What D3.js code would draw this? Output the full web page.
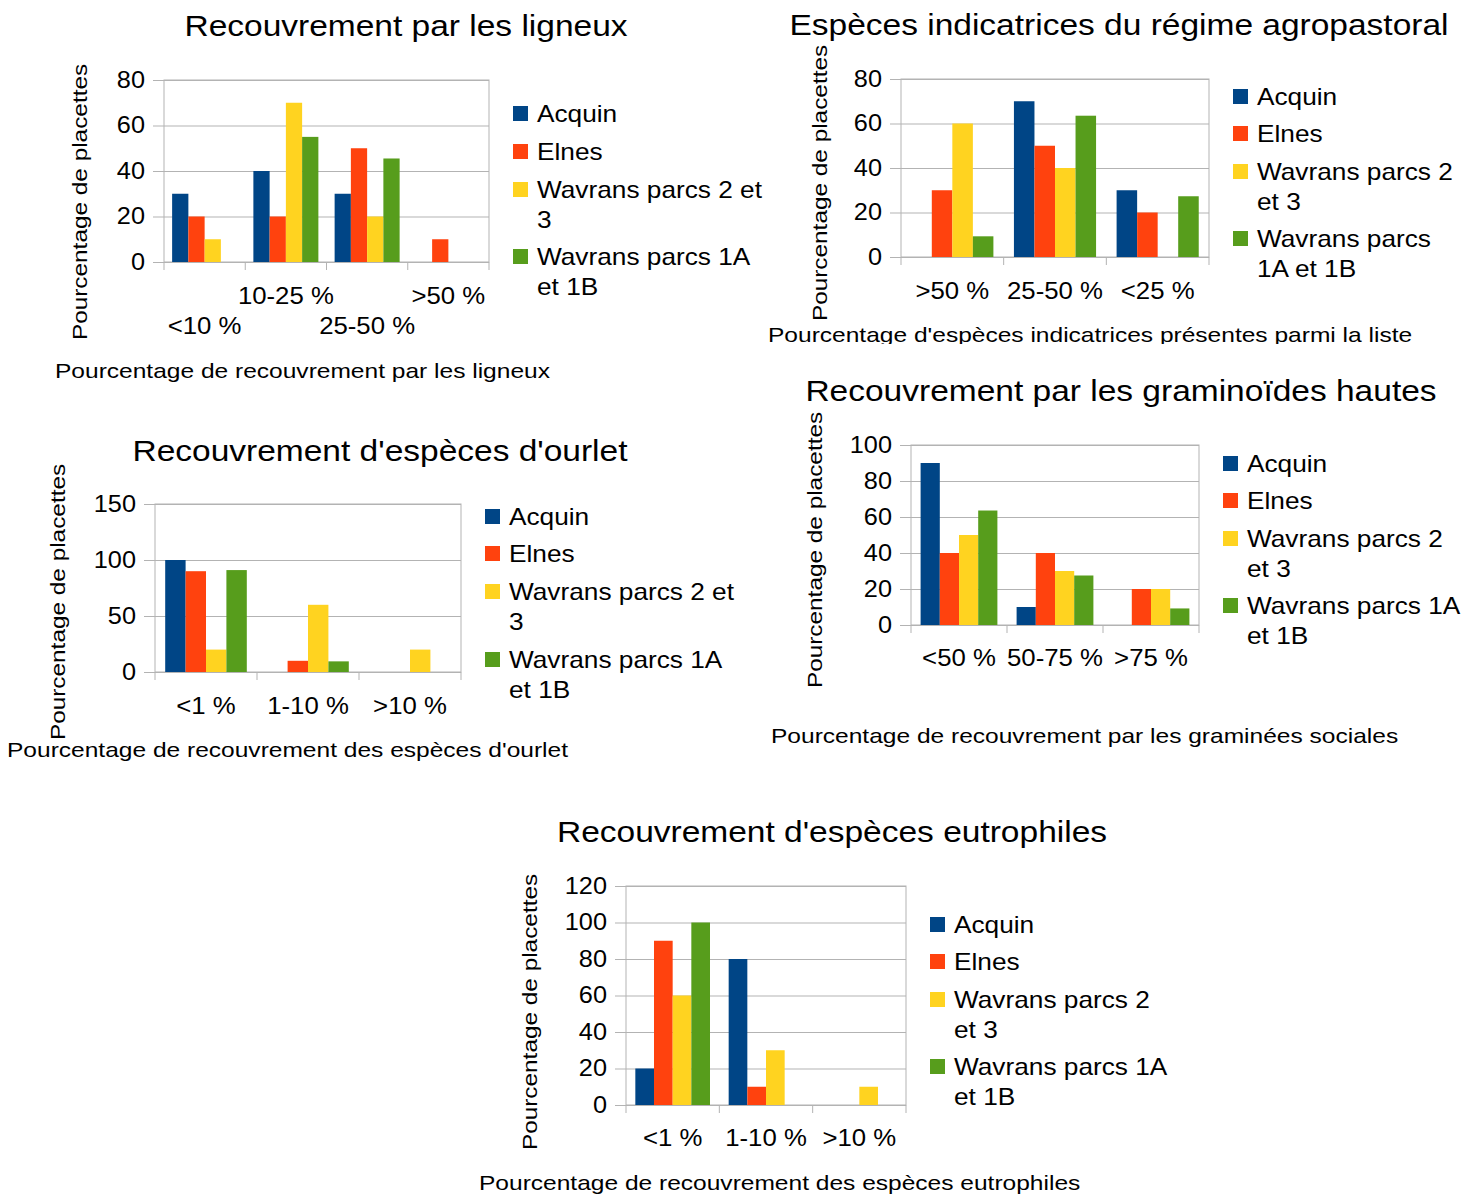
<!DOCTYPE html>
<html>
<head>
<meta charset="utf-8">
<script src="https://cdn.jsdelivr.net/npm/d3@7"></script>
<style>
  body { margin: 0; background: #fff; }
  svg { font-family: "Liberation Sans", Arial, sans-serif; }
  .grid line { stroke: #b3b3b3; }
</style>
</head>
<body>
<script>
// series shared by every chart
var seriesNames = ["Acquin", "Elnes", "Wavrans parcs 2 et 3", "Wavrans parcs 1A et 1B"];
var seriesColors = ["#004586", "#ff420e", "#ffd320", "#579d1c"];

// Recouvrement par les ligneux
var ligneuxCats = ["<10 %", "10-25 %", "25-50 %", ">50 %"];
var ligneuxAcquin = [30, 40, 30, 0];
var ligneuxElnes = [20, 20, 50, 10];
var ligneuxW23 = [10, 70, 20, 0];
var ligneuxW1A = [0, 55, 45.5, 0];
var ligneuxTicks = [0, 20, 40, 60, 80];

// Especes indicatrices du regime agropastoral
var agroCats = [">50 %", "25-50 %", "<25 %"];
var agroAcquin = [0, 70, 30];
var agroElnes = [30, 50, 20];
var agroW23 = [60, 40, 0];
var agroW1A = [9.3, 63.5, 27.3];
var agroTicks = [0, 20, 40, 60, 80];

// Recouvrement d'especes d'ourlet
var ourletCats = ["<1 %", "1-10 %", ">10 %"];
var ourletAcquin = [100, 0, 0];
var ourletElnes = [90, 10, 0];
var ourletW23 = [20, 60, 20];
var ourletW1A = [91, 9.5, 0];
var ourletTicks = [0, 50, 100, 150];

// Recouvrement par les graminoides hautes
var gramCats = ["<50 %", "50-75 %", ">75 %"];
var gramAcquin = [90, 10, 0];
var gramElnes = [40, 40, 20];
var gramW23 = [50, 30, 20];
var gramW1A = [63.6, 27.5, 9.2];
var gramTicks = [0, 20, 40, 60, 80, 100];

// Recouvrement d'especes eutrophiles
var eutroCats = ["<1 %", "1-10 %", ">10 %"];
var eutroAcquin = [20, 80, 0];
var eutroElnes = [90, 10, 0];
var eutroW23 = [60, 30, 10];
var eutroW1A = [100, 0, 0];
var eutroTicks = [0, 20, 40, 60, 80, 100, 120];

var svg = d3.select("body").append("svg")
  .attr("width", 1478)
  .attr("height", 1195);

svg.append("defs").append("clipPath")
  .attr("id", "clipAgro")
  .append("rect")
  .attr("x", 700).attr("y", 300).attr("width", 760).attr("height", 44);

// the reference font runs wider than Liberation Sans at the same height
function stretch(sel, f) {
  sel.each(function() {
    var len = this.getComputedTextLength();
    d3.select(this)
      .attr("textLength", len * f)
      .attr("lengthAdjust", "spacingAndGlyphs");
  });
}

function drawChart(opt) {
  var g = svg.append("g");
  var series = opt.series;
  var w = opt.x1 - opt.x0;

  var x = d3.scaleBand().domain(opt.cats).range([opt.x0, opt.x1]).padding(0);
  var xs = d3.scaleBand().domain(d3.range(series.length))
    .range([0, x.bandwidth()]).paddingInner(0).paddingOuter(0.5);
  var y = d3.scaleLinear().domain([0, d3.max(opt.ticks)]).range([opt.y1, opt.y0]);

  // title
  g.append("text")
    .attr("x", opt.titleX)
    .attr("y", opt.titleY)
    .attr("dy", "0.35em")
    .attr("text-anchor", "middle")
    .style("font-size", "29px")
    .text(opt.title)
    .call(stretch, 1.155);

  // plot frame
  g.append("rect")
    .attr("x", opt.x0).attr("y", opt.y0)
    .attr("width", w).attr("height", opt.y1 - opt.y0)
    .attr("fill", "none").attr("stroke", "#b3b3b3");

  // y axis + gridlines
  var yAxis = d3.axisLeft(y).tickValues(opt.ticks)
    .tickSizeInner(-w).tickSizeOuter(0).tickPadding(19);
  var ya = g.append("g")
    .attr("class", "grid")
    .attr("transform", "translate(" + opt.x0 + ",0)")
    .call(yAxis);
  ya.select(".domain").remove();
  ya.selectAll(".tick line").attr("x1", -11).attr("stroke", "#b3b3b3");
  ya.selectAll(".tick text")
    .attr("fill", "#000")
    .style("font-size", "23px")
    .style("font-family", "Liberation Sans, Arial, sans-serif")
    .call(stretch, 1.1);

  // bars
  var groups = g.selectAll(".grp")
    .data(opt.cats)
    .enter().append("g")
    .attr("transform", function(d) { return "translate(" + x(d) + ",0)"; });
  groups.selectAll("rect")
    .data(function(d, i) { return series.map(function(s, k) { return {k: k, v: s[i]}; }); })
    .enter().append("rect")
    .attr("x", function(d) { return xs(d.k); })
    .attr("width", xs.bandwidth())
    .attr("y", function(d) { return y(d.v); })
    .attr("height", function(d) { return y(0) - y(d.v); })
    .attr("fill", function(d) { return seriesColors[d.k]; });

  // x axis ticks at group boundaries
  var bounds = opt.cats.map(function(c) { return x(c); }).concat([opt.x1]);
  g.selectAll(".xtick")
    .data(bounds)
    .enter().append("line")
    .attr("x1", function(d) { return d; }).attr("x2", function(d) { return d; })
    .attr("y1", opt.y1).attr("y2", opt.y1 + 8)
    .attr("stroke", "#b3b3b3");

  g.selectAll(".xlab")
    .data(opt.cats)
    .enter().append("text")
    .attr("x", function(d) { return x(d) + x.bandwidth() / 2; })
    .attr("y", function(d, i) { return opt.labelY[i % opt.labelY.length]; })
    .attr("dy", "0.35em")
    .attr("text-anchor", "middle")
    .style("font-size", "23px")
    .text(function(d) { return d; })
    .call(stretch, 1.12);

  // axis titles
  var xt = g.append("text")
    .attr("x", opt.xTitleX)
    .attr("y", opt.xTitleY)
    .attr("dy", "0.35em")
    .style("font-size", "21px")
    .text(opt.xTitle)
    .call(stretch, 1.168);
  if (opt.clip) xt.attr("clip-path", "url(#" + opt.clip + ")");

  g.append("text")
    .attr("transform", "translate(" + opt.yTitleX + "," + opt.yTitleY + ") rotate(-90)")
    .attr("dy", "0.35em")
    .attr("text-anchor", "middle")
    .style("font-size", "21px")
    .text("Pourcentage de placettes")
    .call(stretch, 1.16);

  // legend
  opt.legend.forEach(function(lines, k) {
    g.append("rect")
      .attr("x", opt.legendX).attr("y", lines[0].y - 8)
      .attr("width", 15).attr("height", 15)
      .attr("fill", seriesColors[k]);
    lines.forEach(function(ln) {
      g.append("text")
        .attr("x", opt.legendX + 24)
        .attr("y", ln.y)
        .attr("dy", "0.35em")
        .style("font-size", "24px")
        .text(ln.t)
        .call(stretch, 1.093);
    });
  });
}

function legendLines(ys, wraps) {
  return ys.map(function(yy, k) {
    var parts = wraps[k];
    return parts.map(function(t, j) { return {t: t, y: yy + j * 30}; });
  });
}

drawChart({
  title: "Recouvrement par les ligneux", titleX: 406, titleY: 26,
  cats: ligneuxCats, series: [ligneuxAcquin, ligneuxElnes, ligneuxW23, ligneuxW1A],
  ticks: ligneuxTicks, x0: 164, x1: 489, y0: 80, y1: 262,
  labelY: [326, 296],
  xTitle: "Pourcentage de recouvrement par les ligneux", xTitleX: 55, xTitleY: 371,
  yTitleX: 80, yTitleY: 202,
  legendX: 513,
  legend: legendLines([114, 152, 190, 257],
    [["Acquin"], ["Elnes"], ["Wavrans parcs 2 et", "3"], ["Wavrans parcs 1A", "et 1B"]])
});

drawChart({
  title: "Espèces indicatrices du régime agropastoral", titleX: 1119, titleY: 25,
  cats: agroCats, series: [agroAcquin, agroElnes, agroW23, agroW1A],
  ticks: agroTicks, x0: 901, x1: 1209, y0: 79, y1: 257,
  labelY: [291],
  xTitle: "Pourcentage d'espèces indicatrices présentes parmi la liste", xTitleX: 768, xTitleY: 335,
  clip: "clipAgro",
  yTitleX: 820, yTitleY: 183,
  legendX: 1233,
  legend: legendLines([97, 134, 172, 239],
    [["Acquin"], ["Elnes"], ["Wavrans parcs 2", "et 3"], ["Wavrans parcs", "1A et 1B"]])
});

drawChart({
  title: "Recouvrement d'espèces d'ourlet", titleX: 380, titleY: 451,
  cats: ourletCats, series: [ourletAcquin, ourletElnes, ourletW23, ourletW1A],
  ticks: ourletTicks, x0: 155, x1: 461, y0: 504, y1: 672,
  labelY: [706],
  xTitle: "Pourcentage de recouvrement des espèces d'ourlet", xTitleX: 7, xTitleY: 750,
  yTitleX: 58, yTitleY: 602,
  legendX: 485,
  legend: legendLines([517, 554, 592, 660],
    [["Acquin"], ["Elnes"], ["Wavrans parcs 2 et", "3"], ["Wavrans parcs 1A", "et 1B"]])
});

drawChart({
  title: "Recouvrement par les graminoïdes hautes", titleX: 1121, titleY: 391,
  cats: gramCats, series: [gramAcquin, gramElnes, gramW23, gramW1A],
  ticks: gramTicks, x0: 911, x1: 1199, y0: 445, y1: 625,
  labelY: [658],
  xTitle: "Pourcentage de recouvrement par les graminées sociales", xTitleX: 771, xTitleY: 736,
  yTitleX: 815, yTitleY: 550,
  legendX: 1223,
  legend: legendLines([464, 501, 539, 606],
    [["Acquin"], ["Elnes"], ["Wavrans parcs 2", "et 3"], ["Wavrans parcs 1A", "et 1B"]])
});

drawChart({
  title: "Recouvrement d'espèces eutrophiles", titleX: 832, titleY: 832,
  cats: eutroCats, series: [eutroAcquin, eutroElnes, eutroW23, eutroW1A],
  ticks: eutroTicks, x0: 626, x1: 906, y0: 886, y1: 1105,
  labelY: [1138],
  xTitle: "Pourcentage de recouvrement des espèces eutrophiles", xTitleX: 479, xTitleY: 1183,
  yTitleX: 530, yTitleY: 1012,
  legendX: 930,
  legend: legendLines([925, 962, 1000, 1067],
    [["Acquin"], ["Elnes"], ["Wavrans parcs 2", "et 3"], ["Wavrans parcs 1A", "et 1B"]])
});
</script>
</body>
</html>
